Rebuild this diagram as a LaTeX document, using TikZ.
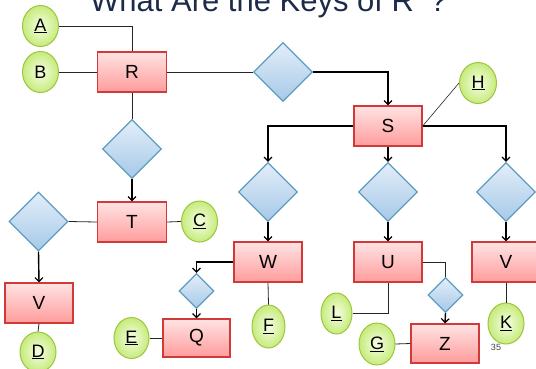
\documentclass[tikz,border=0pt]{standalone}
\usepackage{fontspec}
\setmainfont{Liberation Sans}
\usetikzlibrary{shapes.geometric,arrows.meta}
\definecolor{rbord}{HTML}{D23A3A}
\definecolor{rtop}{HTML}{FFE3E3}
\definecolor{rbot}{HTML}{FF9C9C}
\definecolor{bbord}{HTML}{5E9CC2}
\definecolor{btop}{HTML}{E3EEF9}
\definecolor{bbot}{HTML}{A6C9E8}
\definecolor{gbord}{HTML}{9CC63C}
\definecolor{gin}{HTML}{F6FEE4}
\definecolor{gout}{HTML}{C6EB7C}
\definecolor{titlec}{HTML}{1C2B4A}
\tikzset{
  entity/.style={rectangle, draw=rbord, line width=1.3pt, top color=rtop, bottom color=rbot,
     minimum width=68pt, minimum height=40pt, inner sep=0pt, font=\fontsize{19}{21}\selectfont},
  rel/.style={diamond, draw=bbord, line width=1.3pt, top color=btop, bottom color=bbot,
     minimum width=59pt, minimum height=59pt, inner sep=0pt},
  smallrel/.style={rel, minimum width=35pt, minimum height=35pt},
  attr/.style={ellipse, draw=gbord, line width=1pt, inner color=gin, outer color=gout,
     minimum width=36pt, minimum height=41pt, inner sep=0pt, font=\fontsize{18}{20}\selectfont},
  thin/.style={draw=black!85, line width=0.8pt},
  arr/.style={draw=black, line width=1.4pt, -{Straight Barb[length=4pt,width=8pt,line width=1.2pt]}},
}
\newcommand{\ul}[1]{\underline{#1}}
\begin{document}
\begin{tikzpicture}[x=1pt,y=-1pt]
\useasboundingbox (0,0) rectangle (536,368);
\node[anchor=base, text=titlec, font=\fontsize{31}{34}\selectfont] (title) at (268.5,11) {What Are the Keys of R’ ?};
% nodes
\node[attr] (A) at (40.5,26) {\ul{A}};
\node[attr] (B) at (40.5,72) {B};
\node[entity, minimum width=69pt] (R) at (132,72) {R};
\node[rel] (d1) at (283,72) {};
\node[entity] (S) at (388,126) {S};
\node[attr, minimum width=37pt] (H) at (478,83) {\ul{H}};
\node[rel] (dR) at (132,149) {};
\node[entity, minimum width=69pt] (T) at (132,222) {T};
\node[attr] (C) at (199.5,221.5) {\ul{C}};
\node[rel] (dT) at (38.5,221.5) {};
\node[entity] (V1) at (39,303) {V};
\node[attr, minimum height=40pt] (D) at (38,352) {\ul{D}};
\node[rel] (dW) at (268,192) {};
\node[rel] (dU) at (388,192) {};
\node[rel] (dV) at (506,192) {};
\node[entity] (W) at (268,262) {W};
\node[entity] (U) at (388,262) {U};
\node[entity] (V2) at (506,262) {V};
\node[smallrel] (sW) at (196.5,291) {};
\node[entity, minimum width=67pt, minimum height=38pt] (Q) at (196.5,338) {Q};
\node[attr, minimum width=35pt] (E) at (131.5,338) {\ul{E}};
\node[attr, minimum width=33pt, minimum height=43pt] (F) at (268.5,326.5) {\ul{F}};
\node[smallrel] (sU) at (445.5,295) {};
\node[entity, minimum height=39pt] (Z) at (445,343.5) {Z};
\node[attr, minimum height=42pt] (G) at (377,344) {\ul{G}};
\node[attr, minimum width=31pt] (L) at (336.5,313.5) {\ul{L}};
\node[attr] (K) at (506,323.5) {\ul{K}};
\node[text=black!75, font=\fontsize{9}{10}\selectfont] (pg) at (496,347) {35};
% connectors
\draw[thin] (A.east) -| (R.north);
\draw[thin] (B.east) -- (R.west);
\draw[thin] (R.east) -- (d1.west);
\draw[arr] (d1.east) -| (S.north);
\draw[thin, line width=0.6pt] (H.west) -- (S.east);
\draw[arr] (S.west) -| (dW.north);
\draw[arr] (S.south) -- (dU.north);
\draw[arr] (S.east) -| (dV.north);
\draw[thin] (R.south) -- (dR.north);
\draw[arr] (dR.south) -- (T.north);
\draw[thin] (T.east) -- (C.west);
\draw[thin] (dT.east) -- (T.west);
\draw[arr] (dT.south) -- (V1.north);
\draw[thin] (V1.south) -- (D.north);
\draw[arr] (dW.south) -- (W.north);
\draw[arr] (dU.south) -- (U.north);
\draw[arr] (dV.south) -- (V2.north);
\draw[arr] (W.west) -| (sW.north);
\draw[arr] (sW.south) -- (Q.north);
\draw[thin] (E.east) -- (Q.west);
\draw[thin] (W.south) -- (F.north);
\draw[thin] (U.east) -| (sU.north);
\draw[arr] (sU.south) -- (Z.north);
\draw[thin] (G.east) -- (Z.west);
\draw[thin] (U.south) |- (L.east);
\draw[thin] (V2.south) -- (K.north);
\end{tikzpicture}
\end{document}
